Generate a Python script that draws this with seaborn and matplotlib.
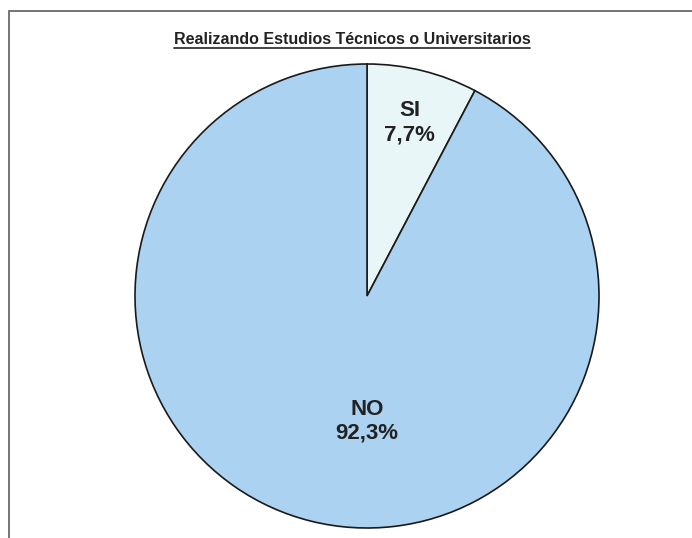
import matplotlib
matplotlib.use("Agg")
import matplotlib.pyplot as plt
from matplotlib.patches import Rectangle
import seaborn as sns
import numpy as np

categories = ["SI", "NO"]
values = [7.7, 92.3]
value_labels = ["7,7%", "92,3%"]
title = "Realizando Estudios Técnicos o Universitarios"

sns.set_theme(style="white")
plt.rcParams['font.family'] = ['Liberation Sans', 'DejaVu Sans']

colors = sns.color_palette(["#e9f6f7", "#abd2f0"])

W, H = 692, 538
fig = plt.figure(figsize=(W / 100, H / 100), dpi=100)

# frame around chart area (extends beyond image at right/bottom)
fig.patches.append(Rectangle((9 / W, -0.1), 1.2, (H - 11) / H + 0.1,
                             transform=fig.transFigure, fill=False,
                             edgecolor="#6a6a6a", linewidth=1.3))

cx, cy, r = 367, 296, 232
ax = fig.add_axes([(cx - r) / W, (H - cy - r) / H, 2 * r / W, 2 * r / H])
wedges, _ = ax.pie(values, colors=colors, startangle=90, counterclock=False,
                   wedgeprops=dict(edgecolor="#1a1a1a", linewidth=1.2))
ax.set_xlim(-1, 1)
ax.set_ylim(-1, 1)
ax.set_aspect("equal")

# labels
mid_si = np.deg2rad((wedges[0].theta1 + wedges[0].theta2) / 2)
ax.text(0.77 * np.cos(mid_si), 0.77 * np.sin(mid_si), f"{categories[0]}\n{value_labels[0]}",
        ha="center", va="center", fontsize=16, fontweight="bold", color="#222222",
        linespacing=1.2)
ax.text(0.0, -0.54, f"{categories[1]}\n{value_labels[1]}",
        ha="center", va="center", fontsize=16, fontweight="bold", color="#222222",
        linespacing=1.2)

fig.text(352 / W, 1 - 39 / H, title, ha="center", va="center", fontsize=11.5,
         fontweight="bold", color="#222222")
# underline
t = fig.texts[-1]
fig.canvas.draw()
bb = t.get_window_extent()
fig.add_artist(plt.Line2D([bb.x0 / W, bb.x1 / W], [(bb.y0 - 1) / H, (bb.y0 - 1) / H],
                          transform=fig.transFigure, color="#222222", linewidth=1.2))

fig.savefig("out.png", dpi=100)
